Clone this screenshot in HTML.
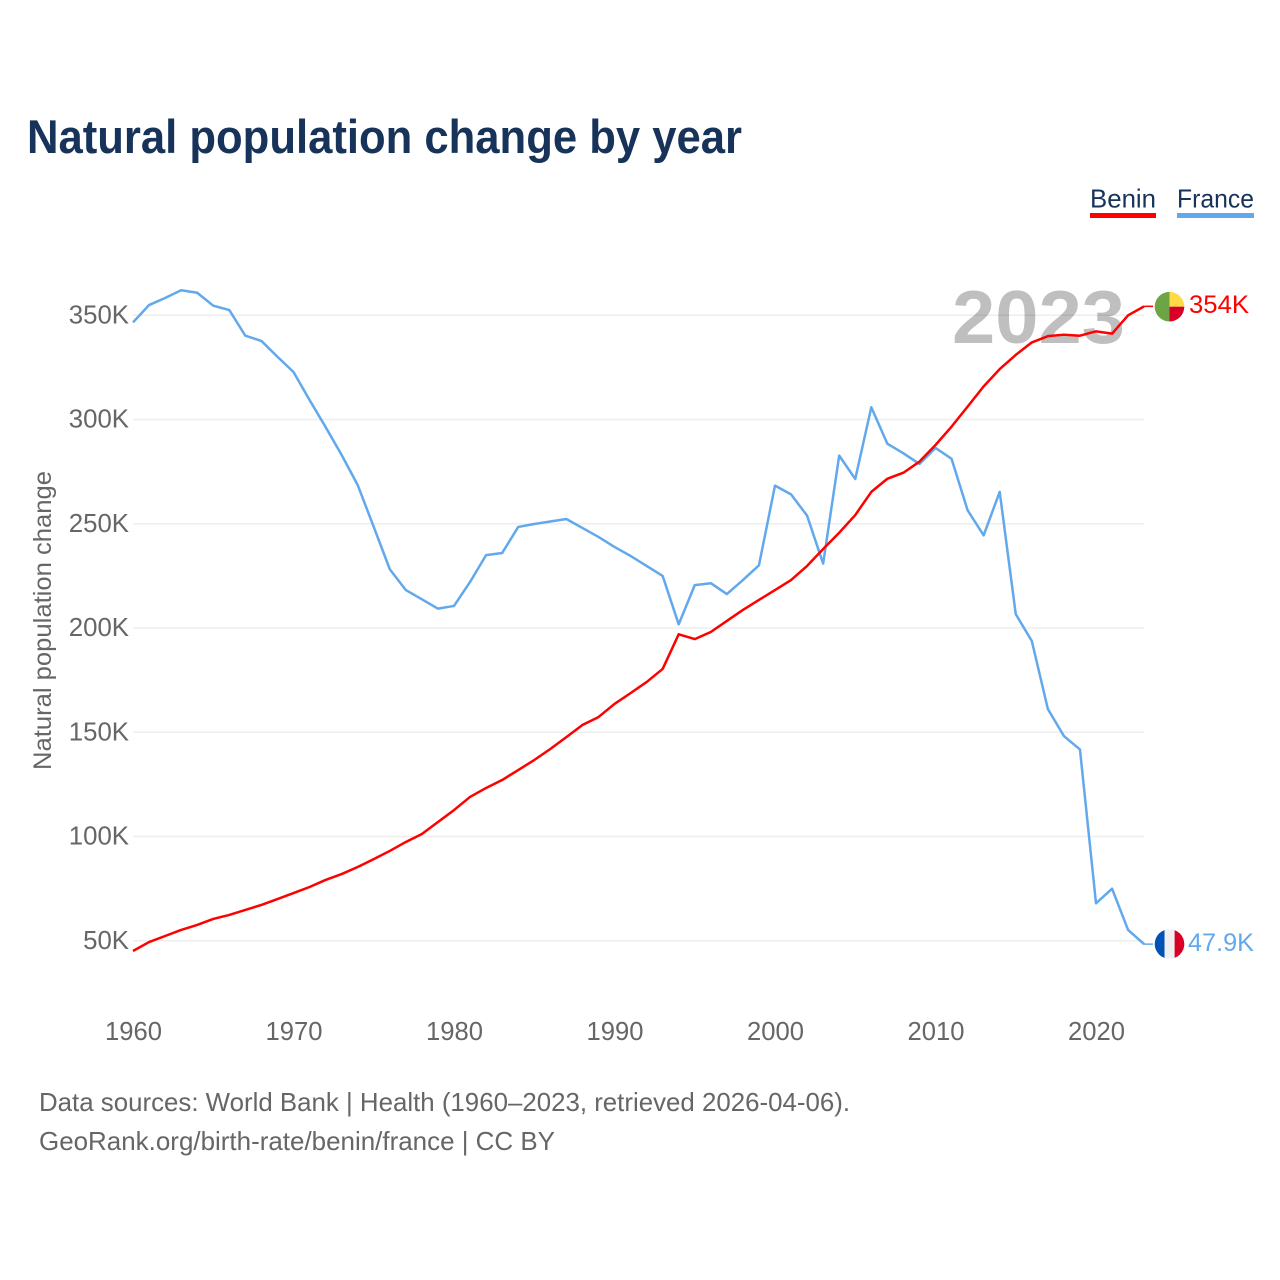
<!DOCTYPE html>
<html lang="en">
<head>
<meta charset="utf-8">
<title>Natural population change by year</title>
<style>
html,body{margin:0;padding:0;background:#fff;}
svg{display:block;font-family:"Liberation Sans",sans-serif;}
</style>
</head>
<body>
<svg id="chart" xmlns="http://www.w3.org/2000/svg" width="1280" height="1280" viewBox="0 0 1280 1280">
  <rect x="0" y="0" width="1280" height="1280" fill="#ffffff"/>
  <text x="27" y="153" font-size="47" font-weight="700" fill="#17335a" textLength="715" lengthAdjust="spacingAndGlyphs">Natural population change by year</text>

  <g>
    <g>
      <text x="1090" y="207.5" font-size="26" fill="#17335a" textLength="66" lengthAdjust="spacingAndGlyphs">Benin</text>
      <rect x="1090" y="213" width="66" height="5" fill="#ff0000"/>
    </g>
    <g>
      <text x="1177" y="207.5" font-size="26" fill="#17335a" textLength="77" lengthAdjust="spacingAndGlyphs">France</text>
      <rect x="1177" y="213" width="77" height="5" fill="#62a8ec"/>
    </g>
  </g>

  <g id="grid"></g>
  <text x="952" y="343" font-size="75" font-weight="700" fill="#000000" fill-opacity="0.25" textLength="173" lengthAdjust="spacingAndGlyphs">2023</text>
  <g id="yticks"></g>
  <g id="xticks"></g>
  <text transform="translate(51,620.5) rotate(-90)" text-anchor="middle" font-size="25" fill="#666666" textLength="299" lengthAdjust="spacingAndGlyphs">Natural population change</text>
  <g id="lines"></g>

  <defs>
    <clipPath id="flag-clip-benin"><circle id="clip-c-benin" cx="1169.5" cy="306.7" r="14.8"/></clipPath>
    <clipPath id="flag-clip-france"><circle id="clip-c-france" cx="1169.5" cy="944" r="14.8"/></clipPath>
  </defs>
  <g id="flag-benin" clip-path="url(#flag-clip-benin)">
    <rect x="1154" y="291" width="15.5" height="32" fill="#6da544"/>
    <rect x="1169.5" y="291" width="16" height="15.7" fill="#ffda44"/>
    <rect x="1169.5" y="306.7" width="16" height="16" fill="#d80027"/>
  </g>
  <g id="flag-france" clip-path="url(#flag-clip-france)">
    <rect x="1154" y="928" width="10.6" height="32" fill="#0052b4"/>
    <rect x="1164.6" y="928" width="10" height="32" fill="#f0f0f0"/>
    <rect x="1174.6" y="928" width="11" height="32" fill="#d80027"/>
  </g>
  <text id="end-benin" x="1189" y="313" font-size="25" fill="#ff0000" textLength="60" lengthAdjust="spacingAndGlyphs">354K</text>
  <text id="end-france" x="1188" y="951" font-size="25" fill="#62a8ec" textLength="66" lengthAdjust="spacingAndGlyphs">47.9K</text>

  <text x="39" y="1111" font-size="26" fill="#666666" textLength="811" lengthAdjust="spacingAndGlyphs">Data sources: World Bank | Health (1960–2023, retrieved 2026-04-06).</text>
  <text x="39" y="1150" font-size="26" fill="#666666" textLength="516" lengthAdjust="spacingAndGlyphs">GeoRank.org/birth-rate/benin/france | CC BY</text>
</svg>
<script>
const startYear = 1960;
const franceValues = [346.6,354.9,358.3,362,360.8,354.6,352.5,340.2,337.7,330.1,322.8,309.4,296.4,283,268.6,248.5,228.2,218.2,213.8,209.3,210.6,222.1,235,236,248.5,249.9,251.1,252.3,248,243.7,238.9,234.6,229.8,225,201.8,220.6,221.5,216.3,223,230.1,268.3,264.1,253.9,230.9,282.7,271.5,305.9,288.4,283.8,278.7,286.4,281.2,256.5,244.5,265.3,206.7,193.8,161.2,148.2,141.8,68,75,55.2,48.4];
const beninValues = [45.1,49.4,52.3,55.2,57.6,60.5,62.4,64.8,67.2,70,72.9,75.8,79.2,82,85.4,89.2,93.1,97.4,101.2,107,112.7,119,123.3,127.1,131.9,136.7,142,147.7,153.5,157.3,163.6,168.8,174.1,180.4,197,194.7,198.1,203.4,208.7,213.5,218.2,223,229.8,237.9,245.7,254.2,265.3,271.6,274.5,279.8,287.8,296.6,306.2,315.9,324.2,331,337,340,340.7,340.2,342.3,341.2,350,354.3];
const yTickValues = [50,100,150,200,250,300,350];
const yTickLabels = ["50K","100K","150K","200K","250K","300K","350K"];
const xTickYears = [1960,1970,1980,1990,2000,2010,2020];

const NS = "http://www.w3.org/2000/svg";
function xScale(year){ return 133 + (year - 1960) * 16.05; }
function yScale(v){ return 940.8 - (v - 50) * 2.085; }

const gridG = document.getElementById("grid");
const yG = document.getElementById("yticks");
const xG = document.getElementById("xticks");
const linesG = document.getElementById("lines");

yTickValues.forEach(function(v, i){
  const l = document.createElementNS(NS, "line");
  
  
  l.setAttribute("x1", 133);
  l.setAttribute("x2", 1144);
  l.setAttribute("y1", yScale(v));
  l.setAttribute("y2", yScale(v));
  l.setAttribute("stroke", "#eeeeee");
  l.setAttribute("stroke-width", "1.5");
  gridG.appendChild(l);
  const t = document.createElementNS(NS, "text");
  
  
  t.setAttribute("x", 129);
  t.setAttribute("y", yScale(v) + 8);
  t.setAttribute("text-anchor", "end");
  t.setAttribute("font-size", "25.8");
  t.setAttribute("fill", "#666666");
  t.textContent = yTickLabels[i];
  yG.appendChild(t);
});

xTickYears.forEach(function(year){
  const t = document.createElementNS(NS, "text");
  
  
  t.setAttribute("x", xScale(year) + 0.5);
  t.setAttribute("y", 1040);
  t.setAttribute("text-anchor", "middle");
  t.setAttribute("font-size", "25.6");
  t.setAttribute("fill", "#666666");
  t.textContent = String(year);
  xG.appendChild(t);
});

function linePath(values){
  return values.map(function(v, i){
    return (i ? "L" : "M") + xScale(startYear + i).toFixed(2) + " " + yScale(v).toFixed(2);
  }).join(" ");
}

const francePath = document.createElementNS(NS, "path");


francePath.setAttribute("d", linePath(franceValues));
francePath.setAttribute("fill", "none");
francePath.setAttribute("stroke", "#62a8ec");
francePath.setAttribute("stroke-width", "2.5");
francePath.setAttribute("stroke-linejoin", "round");
linesG.appendChild(francePath);

const beninPath = document.createElementNS(NS, "path");


beninPath.setAttribute("d", linePath(beninValues));
beninPath.setAttribute("fill", "none");
beninPath.setAttribute("stroke", "#ff0000");
beninPath.setAttribute("stroke-width", "2.5");
beninPath.setAttribute("stroke-linejoin", "round");
linesG.appendChild(beninPath);

function connector(values, color, name){
  const last = values[values.length - 1];
  const c = document.createElementNS(NS, "line");
  
  
  c.setAttribute("x1", xScale(startYear + values.length - 1));
  c.setAttribute("x2", 1153);
  c.setAttribute("y1", yScale(last));
  c.setAttribute("y2", yScale(last));
  c.setAttribute("stroke", color);
  c.setAttribute("stroke-width", "1.5");
  linesG.appendChild(c);
}
connector(franceValues, "#62a8ec", "connector-france");
connector(beninValues, "#ff0000", "connector-benin");
</script>
</body>
</html>
